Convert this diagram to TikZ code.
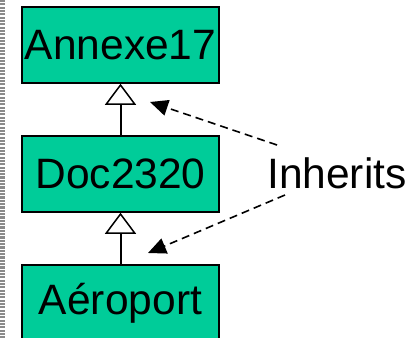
\documentclass[tikz,border=0pt]{standalone}
\usepackage{fontspec}
\setmainfont{Liberation Sans}
\usetikzlibrary{arrows.meta}
\definecolor{classfill}{HTML}{00CC99}
\definecolor{stripe}{HTML}{8A8A8A}
\begin{document}
\begin{tikzpicture}[x=1bp,y=-1bp,
  classbox/.style={draw=black, line width=1.5bp, fill=classfill,
    minimum width=197bp, minimum height=76bp, inner sep=0pt,
    font=\fontsize{42.5bp}{50bp}\selectfont},
  inherit/.style={line width=2bp, -{Triangle[open, length=21bp, width=31bp, fill=white, line width=1.5bp]}},
  note/.style={line width=1.6bp, dash pattern=on 8bp off 5bp,
    -{Triangle[length=18bp, width=16bp]}}]
\useasboundingbox (0,0) rectangle (416,338);
\fill[white] (0,0) rectangle (416,338);
% striped margin on the left
\foreach \k in {0,...,101}
  \fill[stripe] (0,{\k*3.33}) rectangle (5,{\k*3.33+2.1});
% class boxes
\node[classbox] (ann) at (120.5,45) {Annexe17};
\node[classbox] (doc) at (120.5,174) {Doc2320};
\node[classbox] (aer) at (120.5,303) {Aéroport};
% generalisation links
\draw[inherit] (doc.north) -- (ann.south);
\draw[inherit] (aer.north) -- (doc.south);
% label with its pointers
\node[anchor=base west, inner sep=0pt, font=\fontsize{42.5bp}{50bp}\selectfont] (inh) at (267,188) {Inherits};
\coordinate (s1) at (277,145);
\coordinate (t1) at (150,102);
\coordinate (s2) at (285,195);
\coordinate (t2) at (148,253);
\draw[note] (s1) -- (t1);
\draw[note] (s2) -- (t2);
\end{tikzpicture}
\end{document}
